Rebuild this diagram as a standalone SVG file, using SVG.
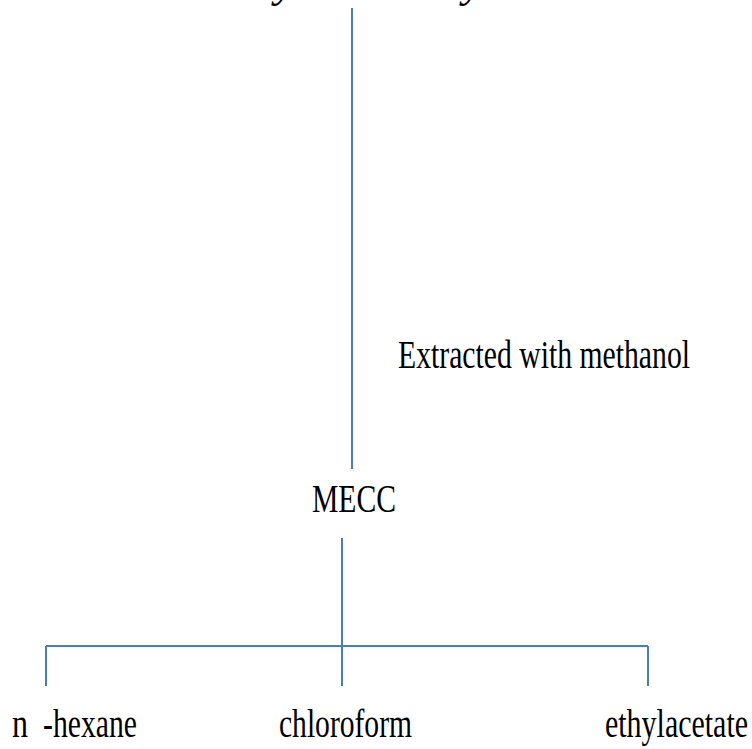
<svg xmlns="http://www.w3.org/2000/svg" width="752" height="749" viewBox="0 0 752 749">
<style>
.t{font-family:"Liberation Serif","Times New Roman",serif;font-size:40px;fill:#000}
.ti{font-family:"Liberation Serif","Times New Roman",serif;font-size:44px;font-style:italic;fill:#000}
.c{stroke:#4a7ebb;stroke-width:2;fill:none}
</style>
<rect width="752" height="749" fill="#fff"/>
<g id="title">
<text class="ti" x="275" y="-3">y</text>
<text class="ti" x="463" y="-3">y</text>
</g>
<g id="connectors">
<line class="c" x1="352" y1="8" x2="352" y2="469"/>
<line class="c" x1="342" y1="538" x2="342" y2="686"/>
<line class="c" x1="46" y1="646" x2="648" y2="646"/>
<line class="c" x1="46" y1="646" x2="46" y2="686"/>
<line class="c" x1="648" y1="646" x2="648" y2="686"/>
</g>
<g id="label-extracted">
<text class="t" x="398" y="368" textLength="292" lengthAdjust="spacingAndGlyphs">Extracted with methanol</text>
</g>
<g id="node-mecc">
<text class="t" x="312" y="512" textLength="84" lengthAdjust="spacingAndGlyphs">MECC</text>
</g>
<g id="node-hexane">
<text class="t" y="737"><tspan x="12" textLength="16" lengthAdjust="spacingAndGlyphs">n</tspan><tspan x="43" textLength="94" lengthAdjust="spacingAndGlyphs">-hexane</tspan></text>
</g>
<g id="node-chloroform">
<text class="t" x="279" y="737" textLength="133" lengthAdjust="spacingAndGlyphs">chloroform</text>
</g>
<g id="node-ethylacetate">
<text class="t" x="605" y="737" textLength="143" lengthAdjust="spacingAndGlyphs">ethylacetate</text>
</g>
</svg>
